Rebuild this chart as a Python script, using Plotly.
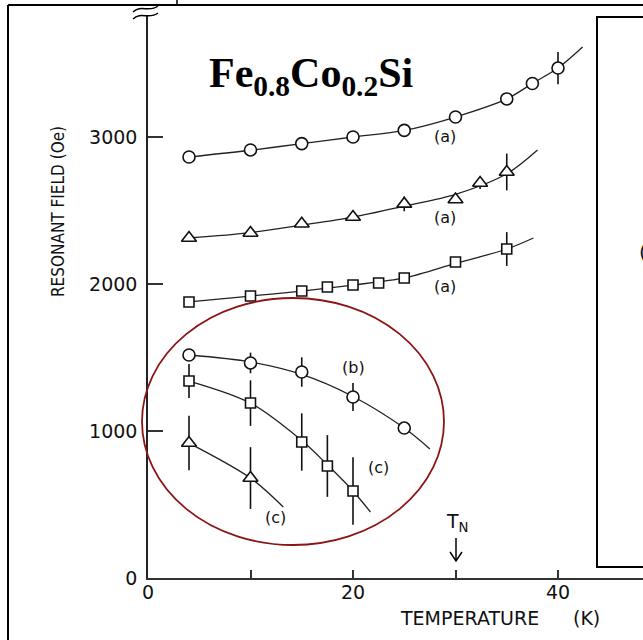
import plotly.graph_objects as go

W, H = 643, 640

# ---- data (temperature K, resonant field Oe) ----
a_circ_T = [4, 10, 15, 20, 25, 30, 35, 37.5, 40]
a_circ_H = [2864, 2912, 2955, 3000, 3045, 3136, 3259, 3364, 3469]
a_circ_err = [0, 0, 0, 0, 0, 0, 0, 25, 110]
a_circ_fit_T = [4, 10, 15, 20, 25, 30, 35, 37.5, 40, 42.4]
a_circ_fit_H = [2864, 2910, 2955, 3000, 3045, 3136, 3259, 3364, 3469, 3612]

a_tri_T = [4, 10, 15, 20, 25, 30, 32.4, 35]
a_tri_H = [2313, 2347, 2410, 2456, 2545, 2575, 2687, 2762]
a_tri_err = [0, 0, 0, 0, 50, 20, 40, 125]
a_tri_fit_T = [4, 10, 15, 20, 25, 30, 35, 38]
a_tri_fit_H = [2313, 2350, 2400, 2455, 2530, 2610, 2750, 2912]

a_sq_T = [4, 10, 15, 17.5, 20, 22.5, 25, 30, 35]
a_sq_H = [1878, 1918, 1952, 1980, 1993, 2007, 2041, 2150, 2238]
a_sq_err = [0, 0, 0, 0, 0, 0, 0, 0, 115]
a_sq_fit_T = [4, 10, 15, 20, 25, 30, 35, 37.6]
a_sq_fit_H = [1878, 1918, 1952, 1993, 2041, 2140, 2238, 2313]

b_circ_T = [4, 10, 15, 20, 25]
b_circ_H = [1517, 1463, 1401, 1231, 1020]
b_circ_err = [0, 70, 100, 95, 40]
b_circ_fit_T = [4, 10, 15, 20, 25, 27.5]
b_circ_fit_H = [1517, 1470, 1385, 1235, 1020, 878]

c_sq_T = [4, 10, 15, 17.5, 20]
c_sq_H = [1340, 1190, 925, 762, 592]
c_sq_err = [115, 155, 195, 210, 230]
c_sq_fit_T = [4, 10, 15, 17.5, 20, 21.7]
c_sq_fit_H = [1340, 1190, 935, 770, 592, 449]

c_tri_T = [4, 10]
c_tri_H = [918, 680]
c_tri_err = [185, 210]
c_tri_fit_T = [4, 10, 13.2]
c_tri_fit_H = [918, 680, 483]

x_tickvals = [0, 20, 40]
x_minor_tickvals = [10, 30]
y_tickvals = [0, 1000, 2000, 3000]


def px(x):
    return x / W


def py(y):
    return 1 - y / H


fig = go.Figure()

series = [
    (a_circ_T, a_circ_H, a_circ_err, a_circ_fit_T, a_circ_fit_H, "circle", 12),
    (a_tri_T, a_tri_H, a_tri_err, a_tri_fit_T, a_tri_fit_H, "triangle-up", 13),
    (a_sq_T, a_sq_H, a_sq_err, a_sq_fit_T, a_sq_fit_H, "square", 10),
    (b_circ_T, b_circ_H, b_circ_err, b_circ_fit_T, b_circ_fit_H, "circle", 12),
    (c_sq_T, c_sq_H, c_sq_err, c_sq_fit_T, c_sq_fit_H, "square", 10),
    (c_tri_T, c_tri_H, c_tri_err, c_tri_fit_T, c_tri_fit_H, "triangle-up", 13),
]

for T, Hs, err, fT, fH, sym, size in series:
    fig.add_trace(go.Scatter(
        x=fT, y=fH, mode="lines",
        line=dict(color="#222", width=1.3, shape="spline", smoothing=0.9),
        hoverinfo="skip", showlegend=False))
    fig.add_trace(go.Scatter(
        x=T, y=Hs, mode="markers",
        marker=dict(symbol=sym, size=size, color="white",
                    line=dict(color="#111", width=1.6)),
        error_y=dict(type="data", array=err, visible=True, width=0,
                     thickness=1.6, color="#111"),
        showlegend=False))

shapes = []
shapes.append(dict(type="line", xref="paper", yref="paper",
                   x0=px(8), y0=py(5), x1=px(643), y1=py(5),
                   line=dict(color="black", width=2)))
shapes.append(dict(type="line", xref="paper", yref="paper",
                   x0=px(8), y0=py(5), x1=px(8), y1=py(640),
                   line=dict(color="black", width=2)))
shapes.append(dict(type="line", xref="paper", yref="paper",
                   x0=px(177), y0=py(0), x1=px(177), y1=py(5),
                   line=dict(color="black", width=1.5)))
shapes.append(dict(type="rect", xref="paper", yref="paper",
                   x0=px(597), y0=py(17), x1=px(660), y1=py(567),
                   line=dict(color="black", width=2)))
shapes.append(dict(type="circle", xref="paper", yref="paper",
                   x0=px(142), y0=py(298), x1=px(444), y1=py(545),
                   line=dict(color="rgb(140,20,20)", width=1.8)))
for yo in (0, 7):
    p = "M {},{} C {},{} {},{} {},{}".format(
        px(133), py(12 + yo), px(141), py(4 + yo),
        px(149), py(13 + yo), px(158), py(6 + yo))
    shapes.append(dict(type="path", xref="paper", yref="paper", path=p,
                       line=dict(color="black", width=1.5)))
shapes.append(dict(type="line", xref="paper", yref="paper",
                   x0=px(456), y0=py(538), x1=px(456), y1=py(561),
                   line=dict(color="black", width=1.5)))
shapes.append(dict(type="path", xref="paper", yref="paper",
                   path="M {},{} L {},{} L {},{}".format(
                       px(450), py(552), px(456), py(561), px(462), py(552)),
                   line=dict(color="black", width=1.5)))

lab_font = dict(family="DejaVu Sans", size=16, color="#111")
big_font = dict(family="DejaVu Sans", size=19, color="#111")
annotations = [
    dict(text="<b>Fe<sub>0.8</sub>Co<sub>0.2</sub>Si</b>", x=px(311), y=py(76),
         font=dict(family="Liberation Serif, Times New Roman, serif", size=42, color="black")),
    dict(text="(a)", x=px(445), y=py(136), font=lab_font),
    dict(text="(a)", x=px(445), y=py(217), font=lab_font),
    dict(text="(a)", x=px(445), y=py(286), font=lab_font),
    dict(text="(b)", x=px(353), y=py(367), font=lab_font),
    dict(text="(c)", x=px(378), y=py(467), font=lab_font),
    dict(text="(c)", x=px(275), y=py(517), font=lab_font),
    dict(text="T<sub>N</sub>", x=px(457), y=py(522), font=big_font),
    dict(text="TEMPERATURE", x=px(469), y=py(618), font=big_font),
    dict(text="(K)", x=px(586), y=py(618), font=big_font),
    dict(text="RESONANT FIELD (Oe)", x=px(58), y=py(212), textangle=-90,
         font=dict(family="Liberation Sans Narrow, DejaVu Sans Condensed, Liberation Sans",
                   size=17, color="#111")),
    dict(text="(", x=px(637), y=py(252), xanchor="left",
         font=dict(family="DejaVu Sans", size=20, color="#111")),
]
for a in annotations:
    a.update(xref="paper", yref="paper", showarrow=False)
    a.setdefault("xanchor", "center")
    a.setdefault("yanchor", "middle")

tick_font = dict(family="DejaVu Sans", size=19, color="#111")
fig.update_layout(
    width=W, height=H,
    margin=dict(l=0, r=0, t=0, b=0, autoexpand=False),
    paper_bgcolor="white", plot_bgcolor="white",
    shapes=shapes, annotations=annotations,
    xaxis=dict(domain=[px(148), 1], range=[0, (643 - 148) / 10.25],
               automargin=False,
               showgrid=False, zeroline=False, showline=True,
               linecolor="#333", linewidth=1.5,
               ticks="inside", ticklen=8, tickwidth=1.5, tickcolor="#333",
               tickvals=x_tickvals, ticklabelstandoff=-4,
               minor=dict(tickvals=x_minor_tickvals, ticks="inside", ticklen=8,
                          tickwidth=1.5, tickcolor="#333", showgrid=False),
               tickfont=tick_font),
    yaxis=dict(domain=[py(578), py(15)], range=[0, (578 - 15) / 0.147],
               automargin=False,
               showgrid=False, zeroline=False, showline=True,
               linecolor="#222", linewidth=1.5,
               ticks="inside", ticklen=15, tickwidth=1.5, tickcolor="#333",
               tickvals=y_tickvals, ticklabelstandoff=5,
               tickfont=tick_font),
)

fig.write_html(
    "out.html",
    config={"displayModeBar": False},
    post_script="document.body.style.margin='0';document.body.style.overflow='hidden';",
)
